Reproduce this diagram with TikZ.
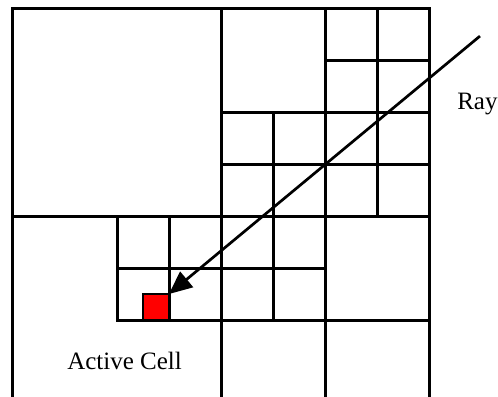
\documentclass[tikz,border=0pt]{standalone}
\usepackage{fontspec}
\setmainfont{Liberation Serif}
\usetikzlibrary{arrows.meta}
\definecolor{cellred}{HTML}{FF0000}

\begin{document}
\begin{tikzpicture}[
      x=52pt, y=-52pt,
      font=\fontsize{25}{29}\selectfont,
      grid/.style={line width=3pt, draw=black, line cap=rect},
      cell/.style={draw=black, line width=2.5pt, fill=cellred, minimum size=26pt,
                   inner sep=0pt, outer sep=0pt},
      ray/.style={-{Triangle[length=23pt, width=20pt]}, line width=2.7pt, draw=black},
      lbl/.style={anchor=base west, inner sep=0pt}
    ]
    \useasboundingbox (-0.25,-0.154) rectangle (9.327,7.462);
    % ------------- outer frame and quadrants -------------
    \draw[grid] (0,0) rectangle (8,8);
    \draw[grid] (4,0) -- (4,8);
    \draw[grid] (0,4) -- (8,4);
    % ------------- upper right quadrant -------------
    \draw[grid] (4,2) -- (8,2);
    \draw[grid] (6,0) -- (6,8);
    \draw[grid] (7,0) -- (7,4);
    \draw[grid] (6,1) -- (8,1);
    \draw[grid] (5,2) -- (5,6);
    \draw[grid] (4,3) -- (8,3);
    % ------------- lower half -------------
    \draw[grid] (2,4) -- (2,6);
    \draw[grid] (3,4) -- (3,6);
    \draw[grid] (2,5) -- (6,5);
    \draw[grid] (2,6) -- (8,6);
    % ------------- active cell and ray -------------
    \node[cell] (active) at (2.75,5.75) {};
    \coordinate (raystart) at (8.98,0.54);
    \draw[ray] (raystart) -- (active.north east);
    \node[lbl] (raylbl) at (8.54,1.96) {Ray};
    \node[lbl] (activelbl) at (1.04,6.96) {Active Cell};
  \end{tikzpicture}
\end{document}
